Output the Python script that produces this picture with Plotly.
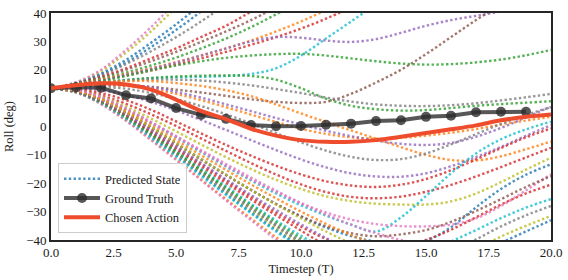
import plotly.graph_objects as go

# ---------------- data ----------------
timesteps_gt = list(range(0, 20))
ground_truth = [13.5, 13.8, 13.7, 11.0, 9.9, 6.5, 4.1, 2.7, 0.5, 0.1, 0.2, 0.6, 1.0, 1.9, 2.2, 3.4, 3.8, 5.0, 5.2, 5.2]

timesteps_action = list(range(0, 21))
chosen_action = [13.5, 14.5, 15.2, 14.8, 13.0, 9.5, 5.5, 2.6, -0.8, -3.2, -4.8, -5.4, -5.4, -4.8,
                 -3.6, -2.3, -1.0, 0.4, 2.2, 3.4, 4.2]

# predicted state trajectories (one value per timestep, from t = 0)
pred_blue_a = [13.5, 15.3, 18.7, 23.5, 29.5, 36, 43]
pred_olive_a = [13.5, 15.5, 19.5, 26, 33.5, 42]
pred_pink_a = [13.5, 15.6, 20, 27, 35, 44]
pred_blue_b = [13.5, 15.2, 18.3, 22.5, 28, 34, 40.5]
pred_gray_a = [13.5, 15.2, 18, 22, 26.5, 31.5, 37, 43]
pred_red_a = [13.5, 15, 17.5, 20.5, 24, 27.5, 31.5, 35.5, 40.5]
pred_brown_a = [13.5, 15, 17.2, 20, 23, 26.3, 29.8, 33.5, 37.5, 42]
pred_green_a = [13.5, 14.9, 16.8, 19, 21.5, 24.3, 27.5, 31, 35, 39.5, 44]
pred_orange_a = [13.5, 14.8, 16.5, 18.5, 20.5, 22.7, 25, 27.5, 30.3, 33.5, 37, 41]
pred_red_b = [13.5, 14.7, 16.2, 18, 19.8, 21.8, 24, 26.3, 28.8, 31.5, 34.5, 38, 42]
pred_purple_a = [13.5, 14.6, 16.2, 18.2, 20.3, 22.5, 25, 27.5, 30, 31.5, 31.3, 30.3, 29.8, 30.8, 33, 35.5,
                 37.5, 39, 40.5, 42]
pred_green_b = [13.5, 14.5, 16, 17.8, 19.8, 21.5, 23, 24.2, 25, 25.5, 25.6, 25, 24, 23, 22.2, 21.8, 22, 22.6,
                23.6, 25.1, 27]
pred_cyan_a = [13.5, 14.5, 15.5, 16.4, 17, 17.3, 17.5, 17.8, 18.5, 20.5, 25, 31, 37, 43]
pred_green_c = [13.5, 14.4, 15.4, 16.4, 17.1, 17.6, 17.9, 18, 17.8, 16.5, 13.5, 9.8, 7.3, 6.1, 5.6, 5.8, 6.5,
                7.3, 7.9, 8.4, 8.9]
pred_brown_b = [13.5, 14, 14.5, 14.5, 14, 13, 12, 10.8, 9.6, 8.7, 8.3, 8.7, 11.5, 15.5, 20, 25.5, 31.5, 37.5, 43]
pred_gray_b = [13.5, 14.5, 15.5, 16.2, 16.5, 16.5, 16.2, 15.5, 14.5, 13.2, 11.8, 10.2, 8.8, 7.8, 7.3, 7.2, 7.5,
               8.2, 9.2, 10.3, 11.5]
pred_orange_b = [13.5, 14.5, 15.5, 16, 16, 15.3, 14.3, 12.8, 10.7, 7.8, 4.6, 1.6, -1.4, -4.3, -7.3, -10,
                 -11.8, -12, -10.5, -8, -5.3]
pred_orange_c = [13.5, 14.2, 14.6, 14.3, 13.2, 11.5, 9.3, 6.8, 4.2, 1.6, -0.8, -2.6, -3.8, -4.3, -4, -3.2,
                 -2.2, -0.9, 0.7, 2.1, 3.4]
pred_purple_b = [13.5, 14.3, 14.8, 14.6, 13.8, 12.2, 10.2, 7.8, 5.4, 3, 0.7, -1.5, -3.4, -5, -6.1, -6.5, -5.8,
                 -3.6, -0.5, 3.2, 7]
pred_gray_c = [13.5, 14, 14, 13.3, 11.8, 9.7, 7.2, 4.3, 1.1, -2.3, -5.6, -8.5, -10.7, -11.8, -11.5, -9.5, -6.3,
               -2.7, 0.9, 4.1, 6.8]
pred_purple_c = [13.5, 13.6, 12.8, 11.1, 8.7, 5.7, 2.3, -1.2, -4.8, -8.3, -11.6, -14.4, -16.5, -17.6, -17.7,
                 -16.5, -14, -10.8, -7.2, -3.3, 0.5]
pred_red_c = [13.5, 13.2, 11.8, 9.3, 5.9, 1.8, -2.4, -6.5, -10.3, -13.8, -16.9, -19.3, -20.8, -21.3, -20.5,
              -18.5, -15.4, -11.6, -7.6, -3.8, -0.7]
pred_red_d = [13.5, 13, 11, 8, 4.3, 0.2, -4.2, -8.6, -12.9, -16.9, -20.4, -23.1, -24.8, -25.3, -24.7, -23,
              -20.6, -17.6, -14.3, -10.9, -7.5]
pred_olive_b = [13.5, 12.8, 10.6, 7, 2.8, -1.7, -6.3, -10.8, -15, -18.8, -22, -24.6, -26.3, -27.2, -27.5,
                -27.5, -26.4, -23.6, -19.6, -15.2, -11]
pred_cyan_b = [13.5, 12.8, 10.1, 6, 1.3, -3.8, -9, -14.1, -19, -23.6, -27.8, -31.4, -34.6, -37, -32, -24.5,
               -16.5, -9.5, -4.5, -1, 1.7]
pred_blue_c = [13.5, 12.5, 9.5, 5, -0.2, -5.8, -11.4, -17, -22.3, -27.3, -31.8, -35.6, -38.6, -40.6, -41.4,
               -40.2, -35.5, -28.5, -22, -17, -13.3]
pred_pink_b = [13.5, 12.8, 10, 6, 1.4, -3.6, -8.7, -13.8, -18.6, -23, -27, -30.3, -32.8, -34.4, -35.1, -35.2,
               -34.6, -32.4, -28, -22.5, -16.8]
pred_brown_c = [13.5, 12.4, 9.3, 4.8, -0.5, -6.1, -11.7, -17.2, -22.4, -27.3, -31.6, -35.2, -37.6, -38.7, -38,
                -36.5, -33.6, -29.8, -25.6, -21.3, -17.5]
pred_red_e = [13.5, 12.5, 9.3, 4.5, -1.1, -7.1, -13.1, -19, -24.8, -30.3, -35.3, -39.6, -42.5, -43.5, -42.5,
              -40, -36.4, -32, -27.5, -23.6, -20.5]
pred_cyan_c = [13.5, 12.3, 9, 4, -2, -8.3, -14.7, -21, -27.2, -33.1, -38.5, -43, -46, -47, -46, -43.8, -40.5,
               -36.5, -32.3, -28.6, -25.6]
pred_gray_d = [13.5, 12.3, 8.8, 3.7, -2.5, -9, -15.6, -22.2, -28.6, -34.7, -40.3, -45, -48.3, -49.7, -49.5,
               -47.5, -44, -39.8, -35.2, -31.3, -28]
pred_olive_c = [13.5, 12.2, 8.6, 3.3, -3, -9.6, -16.3, -23, -29.4, -35.6, -41.3, -46.3, -50, -52, -52.5, -51,
                -47.5, -43.3, -38.8, -35, -31.5]
pred_blue_d = [13.5, 12.1, 8.4, 3, -3.4, -10.1, -16.9, -23.7, -30.2, -36.5, -42.3, -47.3, -51, -53.2, -53.8,
               -52.5, -49.5, -45.5, -41, -37, -33]
pred_orange_d = [13.5, 12, 8, 2.2, -4.5, -11.5, -18.6, -25.6, -32.4, -39, -45]
pred_pink_c = [13.5, 12, 7.9, 2, -4.8, -11.8, -18.9, -26, -33, -39.8, -46]
pred_cyan_d = [13.5, 12.1, 8.2, 2.6, -3.9, -10.6, -17.4, -24.1, -30.6, -37, -43]
pred_gray_e = [13.5, 12.2, 8.5, 3.2, -3, -9.5, -16, -22.6, -28.9, -35, -41]
pred_green_d = [13.5, 12.3, 8.7, 3.5, -2.6, -8.9, -15.3, -21.6, -27.8, -33.8, -39.5, -45]
pred_red_f = [13.5, 12.4, 9, 4, -1.8, -7.8, -13.9, -19.9, -25.7, -31.3, -36.7, -42]
pred_purple_d = [13.5, 12.5, 9.2, 4.3, -1.3, -7.1, -12.9, -18.6, -24.1, -29.4, -34.5, -39.3, -44]
pred_olive_d = [13.5, 12.6, 9.6, 5, -0.3, -5.8, -11.4, -16.9, -22.3, -27.5, -32.4, -37, -41.3]
pred_orange_e = [13.5, 12.7, 9.9, 5.6, 0.5, -4.8, -10.1, -15.3, -20.4, -25.3, -30, -34.3, -38.2, -41.6]
pred_pink_d = [13.5, 12.9, 10.4, 6.4, 1.6, -3.3, -8.3, -13.2, -18, -22.6, -27, -31, -34.6, -37.6, -40, -41.5]

predicted = [
    ("blue", pred_blue_a), ("olive", pred_olive_a), ("pink", pred_pink_a), ("blue", pred_blue_b),
    ("gray", pred_gray_a), ("red", pred_red_a), ("brown", pred_brown_a), ("green", pred_green_a),
    ("orange", pred_orange_a), ("red", pred_red_b), ("purple", pred_purple_a), ("green", pred_green_b),
    ("cyan", pred_cyan_a), ("green", pred_green_c), ("brown", pred_brown_b), ("gray", pred_gray_b),
    ("orange", pred_orange_b), ("orange", pred_orange_c), ("purple", pred_purple_b), ("gray", pred_gray_c),
    ("purple", pred_purple_c), ("red", pred_red_c), ("red", pred_red_d), ("olive", pred_olive_b),
    ("cyan", pred_cyan_b), ("blue", pred_blue_c), ("pink", pred_pink_b), ("brown", pred_brown_c),
    ("red", pred_red_e), ("cyan", pred_cyan_c), ("gray", pred_gray_d), ("olive", pred_olive_c),
    ("blue", pred_blue_d), ("orange", pred_orange_d), ("pink", pred_pink_c), ("cyan", pred_cyan_d),
    ("gray", pred_gray_e), ("green", pred_green_d), ("red", pred_red_f), ("purple", pred_purple_d),
    ("olive", pred_olive_d), ("orange", pred_orange_e), ("pink", pred_pink_d),
]

x_ticks = [0, 2.5, 5, 7.5, 10, 12.5, 15, 17.5, 20]
y_ticks = [-40, -30, -20, -10, 0, 10, 20, 30, 40]

# ---------------- style ----------------
PALETTE = {
    "blue": "#1f77b4", "orange": "#ff7f0e", "green": "#2ca02c", "red": "#d62728",
    "purple": "#9467bd", "brown": "#8c564b", "pink": "#e377c2", "gray": "#7f7f7f",
    "olive": "#bcbd22", "cyan": "#17becf",
}
FONT = "Liberation Serif"
TEXT = "#1a1a1a"

fig = go.Figure()
for i, (cname, vals) in enumerate(predicted):
    fig.add_trace(go.Scatter(
        x=list(range(len(vals))), y=vals, mode="lines",
        line=dict(color=PALETTE[cname], width=2.4, dash="2.4px,2.4px", shape="spline", smoothing=1),
        opacity=0.8, name="Predicted State", legendgroup="pred",
        showlegend=(i == 0), hoverinfo="skip",
    ))

fig.add_trace(go.Scatter(
    x=timesteps_gt, y=ground_truth, mode="lines+markers", name="Ground Truth",
    line=dict(color="rgba(45,45,45,0.8)", width=4),
    marker=dict(size=10, color="rgba(45,45,45,0.8)"),
))
fig.add_trace(go.Scatter(
    x=timesteps_action, y=chosen_action, mode="lines", name="Chosen Action",
    line=dict(color="#ee4c2c", width=4, shape="spline", smoothing=1),
))

axis_common = dict(
    showgrid=False, zeroline=False, showline=True, mirror=True,
    linecolor="#262626", linewidth=1.6, ticks="",
    tickfont=dict(family=FONT, size=13, color=TEXT),
)
fig.update_xaxes(range=[0, 20], tickvals=x_ticks, tickformat=".1f",
                 title=dict(text="Timestep (T)", font=dict(family=FONT, size=12.5, color=TEXT), standoff=5),
                 **axis_common)
fig.update_yaxes(range=[-40, 40], tickvals=y_ticks,
                 title=dict(text="Roll (deg)", font=dict(family=FONT, size=12.5, color=TEXT), standoff=10),
                 **axis_common)

fig.update_layout(
    width=568, height=280,
    margin=dict(l=51, r=12, t=6, b=40),
    paper_bgcolor="white", plot_bgcolor="white",
    font=dict(family=FONT, size=12.5, color=TEXT),
    legend=dict(
        x=0.014, y=0.03, xanchor="left", yanchor="bottom",
        bgcolor="rgba(255,255,255,0.85)", bordercolor="#cccccc", borderwidth=1,
        font=dict(family=FONT, size=12.5, color=TEXT), itemwidth=36, tracegroupgap=0,
    ),
    showlegend=True,
)

fig.write_html("out.html", config={"displayModeBar": False},
               post_script="document.body.style.margin='0';")
